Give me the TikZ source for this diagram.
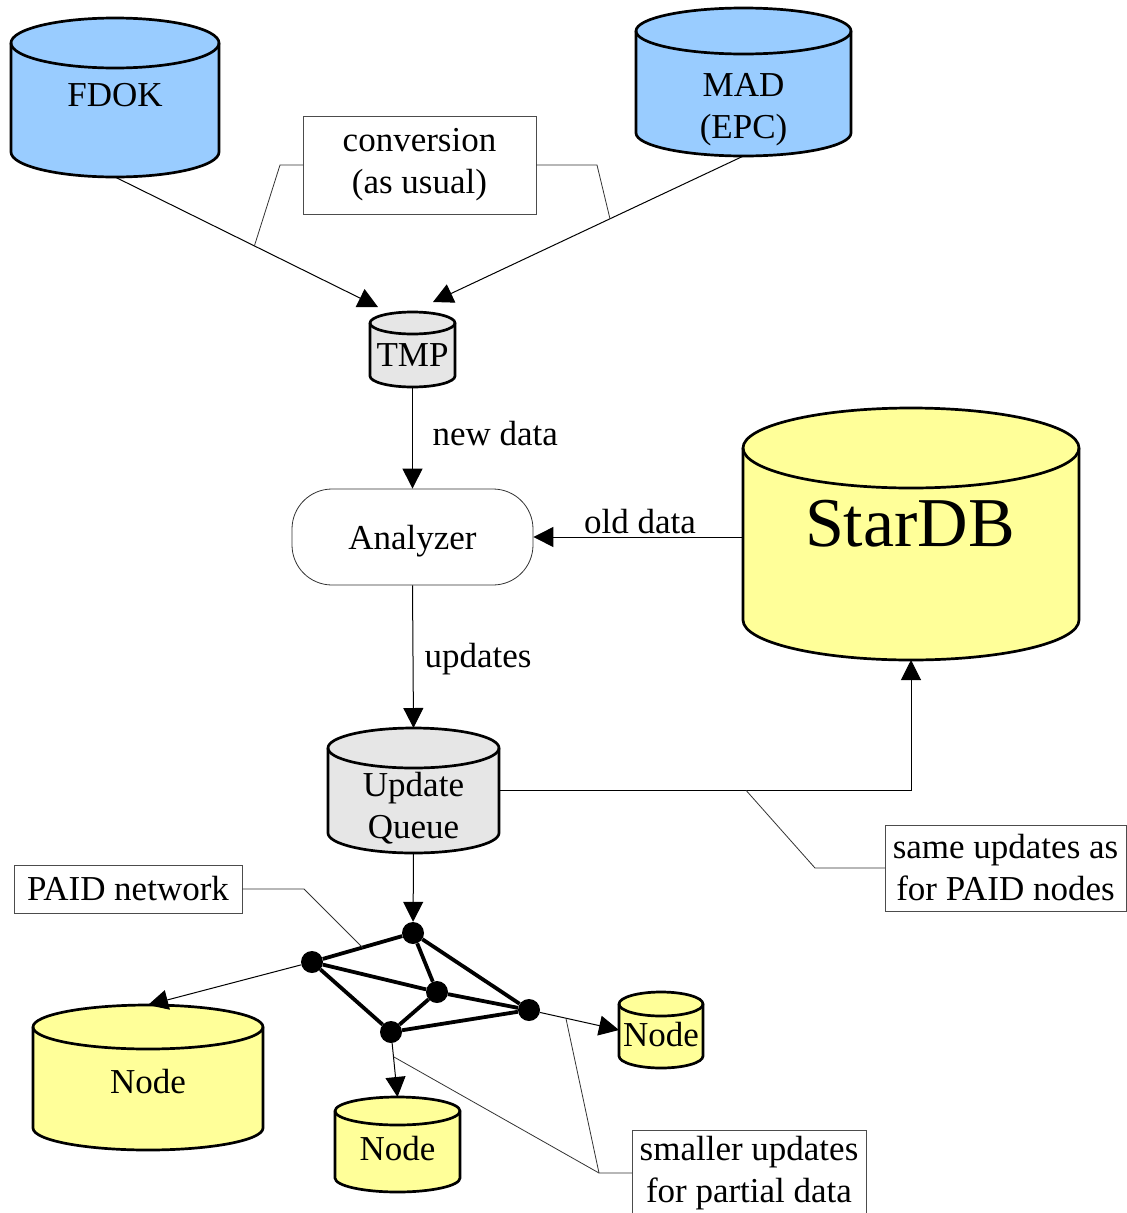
\documentclass[tikz,border=0pt]{standalone}
\usepackage{fontspec}
\setmainfont{Liberation Serif}
\usetikzlibrary{arrows.meta,calc}

\definecolor{dbblue}{HTML}{99CCFF}
\definecolor{dbyellow}{HTML}{FFFF99}
\definecolor{dbgray}{HTML}{E6E6E6}

% cylinder round a named node: node, x radius, y radius, fill
\newcommand{\dbdraw}[4]{%
  \filldraw[dbline, fill=#4] ([yshift=-#3]#1.north west) -- ([yshift=#3]#1.south west)
    arc[start angle=180, end angle=360, x radius=#2, y radius=#3]
    -- ([yshift=-#3]#1.north east)
    arc[start angle=0, end angle=180, x radius=#2, y radius=#3] -- cycle;
  \draw[dbline] ([yshift=-#3]#1.north west)
    arc[start angle=180, end angle=360, x radius=#2, y radius=#3];
}

\begin{document}
\begin{tikzpicture}[x=1pt,y=-1pt,
  font=\fontsize{35}{42}\selectfont,
  dbbox/.style={rectangle, inner sep=0pt, outer sep=0pt},
  dbline/.style={line width=2.7pt},
  arr/.style={-{Triangle[length=20pt,width=20pt]}, line width=1pt},
  call/.style={line width=0.8pt, black!80},
  note/.style={draw=black!70, line width=1pt, align=center, inner sep=0pt, outer sep=0pt},
  dot/.style={circle, fill=black, inner sep=0pt, minimum size=22pt},
  net/.style={line width=3.8pt}]
		\useasboundingbox (0,0) rectangle (1127,1213);

		% sources
		\node[dbbox, minimum width=208pt, minimum height=159pt] (fdok) at (115,97.5) {};
		\dbdraw{fdok}{104pt}{25pt}{dbblue}
		\node (fdoklbl) at (115,95) {FDOK};
		\node[dbbox, minimum width=215pt, minimum height=148pt] (mad) at (743.5,82) {};
		\dbdraw{mad}{107.5pt}{23pt}{dbblue}
		\node[align=center] (madlbl) at (743.5,110) {MAD\\(EPC)};

		\node[dbbox, minimum width=85pt, minimum height=75pt] (tmp) at (412.5,349.5) {};
		\dbdraw{tmp}{42.5pt}{11pt}{dbgray}
		\node (tmplbl) at (412.5,355) {TMP};

		\draw[arr] (fdok.south) -- ([xshift=8pt,yshift=5pt]tmp.north west) coordinate (tmpin1);
		\draw[arr] (mad.south) -- ([xshift=-22pt,yshift=10pt]tmp.north east) coordinate (tmpin2);

		\node[note, minimum width=233pt, minimum height=98pt] (conv) at (419.5,165) {conversion\\(as usual)};
		\draw[call] (conv.west) -- ++(-23,0) -- ($(fdok.south)!0.53!(tmpin1)$);
		\draw[call] (conv.east) -- ++(61,0) -- ($(mad.south)!0.43!(tmpin2)$);

		% analyzer
		\node[draw=black!80, line width=0.8pt, rounded corners=40pt, minimum width=241pt, minimum height=96pt, text depth=0pt] (analyzer) at (412.5,537) {Analyzer};
		\draw[arr] (tmp.south) -- (analyzer.north);
		\node[anchor=west] (newdata) at (429,434) {new data};

		\node[dbbox, minimum width=336pt, minimum height=252pt] (stardb) at (911,534) {};
		\dbdraw{stardb}{168pt}{40pt}{dbyellow}
		\node[font=\fontsize{70}{80}\selectfont] (stardblbl) at (910,524) {StarDB};
		\draw[arr] (stardb.west |- analyzer.east) -- (analyzer.east);
		\node (olddata) at (640,522) {old data};

		% update queue
		\node[dbbox, minimum width=171pt, minimum height=125pt] (queue) at (413.5,790.5) {};
		\dbdraw{queue}{85.5pt}{20pt}{dbgray}
		\node[align=center] (queuelbl) at (413.5,808) {Update\\Queue};
		\draw[arr] (analyzer.south) -- (queue.north);
		\node[anchor=west] (updates) at (421,659) {updates};
		\draw[arr] (queue.east) -| (stardb.south);

		\node[note, minimum width=241pt, minimum height=86pt] (same) at (1005.5,868) {same updates as\\for PAID nodes};
		\draw[call] (same.west) -- ++(-70,0) -- ($(queue.east)!0.6!(queue.east -| stardb.south)$);

		% PAID network
		\node[dot] (a) at (413,933) {};
		\node[dot] (b) at (312,962) {};
		\node[dot] (c) at (437,992) {};
		\node[dot] (d) at (529,1010) {};
		\node[dot] (e) at (391,1032) {};
		\draw[net] (a) -- (b) (a) -- (c) (a) -- (d) (b) -- (c) (b) -- (e)
			(c) -- (d) (c) -- (e) (e) -- (d);
		\draw[arr] (queue.south) -- (a);

		\node[note, minimum width=228pt, minimum height=48pt] (paid) at (128,889) {PAID network};
		\draw[call] (paid.east) -- ++(62,0) -- ($(b)!0.5!(a)$);

		% PAID nodes
		\node[dbbox, minimum width=230pt, minimum height=145pt] (node1) at (148,1077.5) {};
		\dbdraw{node1}{115pt}{22pt}{dbyellow}
		\node (node1lbl) at (148,1082) {Node};
		\node[dbbox, minimum width=125pt, minimum height=95pt] (node2) at (397.5,1144.5) {};
		\dbdraw{node2}{62.5pt}{14pt}{dbyellow}
		\node (node2lbl) at (397.5,1149) {Node};
		\node[dbbox, minimum width=84pt, minimum height=76pt] (node3) at (661,1030) {};
		\dbdraw{node3}{42pt}{12pt}{dbyellow}
		\node (node3lbl) at (661,1035) {Node};

		\draw[arr] (b) -- (node1.north);
		\draw[arr] (e) -- (node2.north);
		\draw[arr] (d) -- (node3.west);

		\node[note, minimum width=234pt, minimum height=86pt] (smaller) at (749,1173) {smaller updates\\for partial data};
		\draw[call] (smaller.west) -- ++(-33,0) coordinate (sm) -- ($(e)!0.38!(node2.north)$);
		\draw[call] (sm) -- ($(d)!0.41!(node3.west)$);
		\end{tikzpicture}
\end{document}
